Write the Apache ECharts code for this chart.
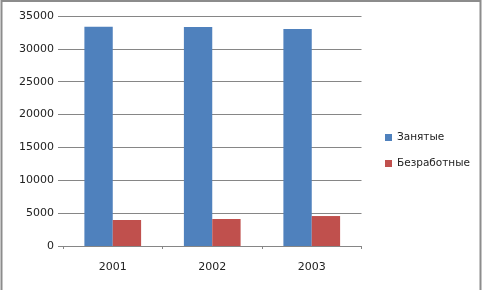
<!DOCTYPE html>
<html>
<head>
<meta charset="utf-8">
<script src="https://cdn.jsdelivr.net/npm/echarts@6/dist/echarts.min.js"></script>
<style>html,body{margin:0;padding:0;background:#fff}#c{width:483px;height:290px}</style>
</head>
<body>
<div id="c"></div>
<script>
var categories = ['2001', '2002', '2003'];
var employed = [33370, 33330, 33020];
var unemployed = [3960, 4110, 4560];
var seriesNames = ['Занятые', 'Безработные'];
var yTicks = {min: 0, max: 35000, interval: 5000};

var chart = echarts.init(document.getElementById('c'), null, {renderer: 'canvas'});
var font = 'DejaVu Sans';
var borderStyle = {stroke: '#8c8c8c', lineWidth: 2};
chart.setOption({
  animation: false,
  backgroundColor: '#ffffff',
  graphic: [
    {type: 'polyline', silent: true, shape: {points: [[1.5, 290], [1.5, 1], [480.5, 1], [480.5, 290]]}, style: borderStyle}
  ],
  grid: {left: 63, right: 121.5, top: 16, bottom: 44, containLabel: false},
  legend: {
    orient: 'vertical', left: 380, top: 126,
    itemWidth: 7, itemHeight: 7, itemGap: 13,
    icon: 'rect',
    textStyle: {fontFamily: font, fontSize: 10.5, color: '#222', lineHeight: 13},
    data: seriesNames
  },
  xAxis: {
    type: 'category', data: categories,
    axisLine: {show: true, lineStyle: {color: '#868686', width: 1}},
    axisTick: {show: true, length: 3, alignWithLabel: false, lineStyle: {color: '#868686'}},
    axisLabel: {fontFamily: font, fontSize: 11, color: '#222', margin: 16}
  },
  yAxis: {
    type: 'value', min: yTicks.min, max: yTicks.max, interval: yTicks.interval,
    axisLine: {show: false},
    axisTick: {show: true, length: 5, lineStyle: {color: '#868686'}},
    splitLine: {show: true, lineStyle: {color: '#868686', width: 1}},
    axisLabel: {fontFamily: font, fontSize: 11, color: '#222', margin: 9, formatter: function (v) { return String(v); }}
  },
  series: [
    {name: seriesNames[0], type: 'bar', data: employed, itemStyle: {color: '#4F81BD'}, barGap: '0%', barCategoryGap: '43%'},
    {name: seriesNames[1], type: 'bar', data: unemployed, itemStyle: {color: '#C0504D'}, barGap: '0%', barCategoryGap: '43%'}
  ]
});
</script>
</body>
</html>
